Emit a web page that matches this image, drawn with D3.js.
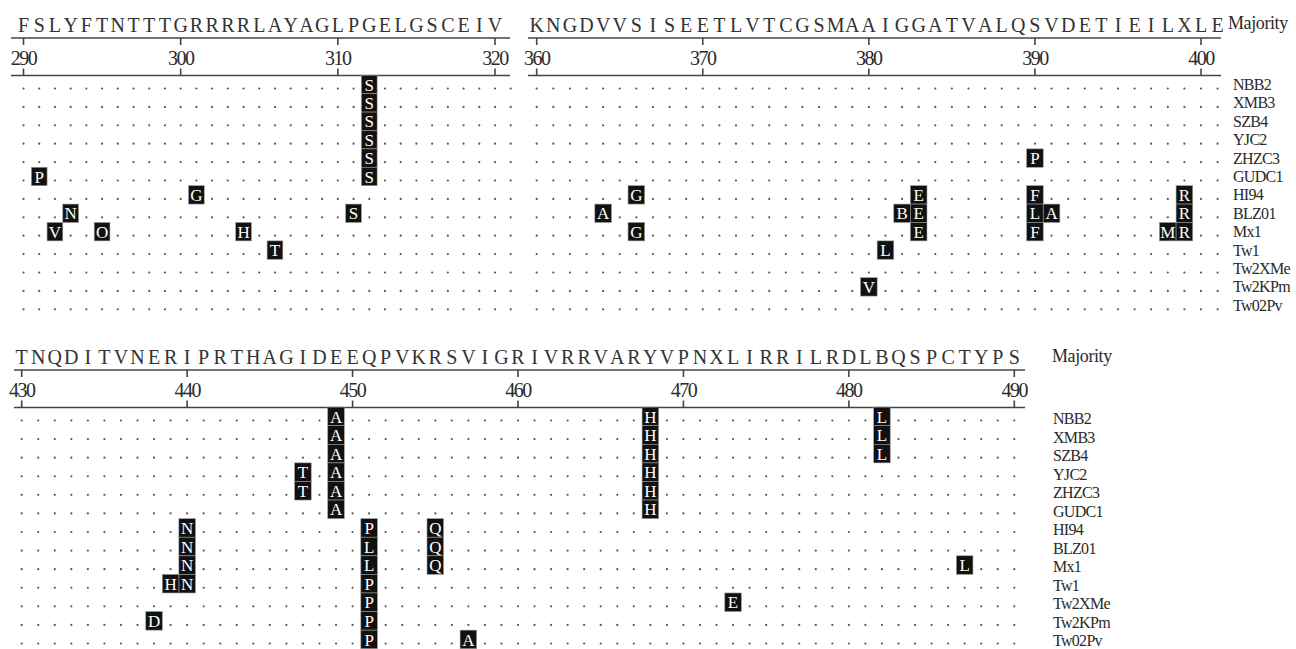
<!DOCTYPE html>
<html>
<head>
<meta charset="utf-8">
<script src="https://cdn.jsdelivr.net/npm/d3@7"></script>
<style>
  body { margin: 0; background: #fff; }
  svg text { font-family: "Liberation Serif", "Times New Roman", serif; }
</style>
</head>
<body>
<script>
// strain names, one alignment row each
const strains = ["NBB2", "XMB3", "SZB4", "YJC2", "ZHZC3", "GUDC1", "HI94",
                 "BLZ01", "Mx1", "Tw1", "Tw2XMe", "Tw2KPm", "Tw02Pv"];

// majority sequences of the three blocks
const seqA = "FSLYFTNTTTGRRRRLAYAGLPGELGSCEIV";                                  // 290 - 320
const seqB = "KNGDVVSISEETLVTCGSMAAIGGATVALQSVDETIEILXLE";                       // 360 - 401
const seqC = "TNQDITVNERIPRTHAGIDEEQPVKRSVIGRIVRRVARYVPNXLIRRILRDLBQSPCTYPS";    // 430 - 490

const startA = 290, lastA = 321;
const startB = 360, lastB = 401;
const startC = 430, lastC = 490;

const ticksA = [290, 300, 310, 320];
const ticksB = [360, 370, 380, 390, 400];
const ticksC = [430, 440, 450, 460, 470, 480, 490];

// substitutions: [residue, strain index, amino acid]
const mutA = [
  [312, 0, "S"], [312, 1, "S"], [312, 2, "S"], [312, 3, "S"], [312, 4, "S"], [312, 5, "S"],
  [291, 5, "P"], [301, 6, "G"], [293, 7, "N"], [311, 7, "S"],
  [292, 8, "V"], [295, 8, "O"], [304, 8, "H"], [306, 9, "T"]
];
const mutB = [
  [390, 4, "P"],
  [366, 6, "G"], [383, 6, "E"], [390, 6, "F"], [399, 6, "R"],
  [364, 7, "A"], [382, 7, "B"], [383, 7, "E"], [390, 7, "L"], [391, 7, "A"], [399, 7, "R"],
  [366, 8, "G"], [383, 8, "E"], [390, 8, "F"], [398, 8, "M"], [399, 8, "R"],
  [381, 9, "L"], [380, 11, "V"]
];
const mutC = [
  [449, 0, "A"], [449, 1, "A"], [449, 2, "A"], [449, 3, "A"], [449, 4, "A"], [449, 5, "A"],
  [468, 0, "H"], [468, 1, "H"], [468, 2, "H"], [468, 3, "H"], [468, 4, "H"], [468, 5, "H"],
  [482, 0, "L"], [482, 1, "L"], [482, 2, "L"],
  [447, 3, "T"], [447, 4, "T"],
  [440, 6, "N"], [440, 7, "N"], [440, 8, "N"], [440, 9, "N"], [439, 9, "H"],
  [438, 11, "D"],
  [451, 6, "P"], [451, 7, "L"], [451, 8, "L"], [451, 9, "P"], [451, 10, "P"], [451, 11, "P"], [451, 12, "P"],
  [455, 6, "Q"], [455, 7, "Q"], [455, 8, "Q"],
  [457, 12, "A"], [473, 10, "E"], [487, 8, "L"]
];

// layout of the blocks (pixels)
const blocks = [
  { seq: seqA, start: startA, last: lastA, ticks: ticksA, muts: mutA,
    px: [23.5, 495], lineX: [11, 510], top: 0, rows: [90, 310.8] },
  { seq: seqB, start: startB, last: lastB, ticks: ticksB, muts: mutB,
    px: [536.7, 1201], lineX: [528, 1221], top: 0, rows: [90, 310.8] },
  { seq: seqC, start: startC, last: lastC, ticks: ticksC, muts: mutC,
    px: [21.7, 1014.3], lineX: [14, 1025], top: 332, rows: [422, 645] }
];

const svg = d3.select("body").append("svg")
  .attr("width", 1296)
  .attr("height", 649);

const ink = "#2a2a2a";

blocks.forEach(function(b) {
  const t = b.ticks;
  const x = d3.scaleLinear().domain([t[0], t[t.length - 1]]).range(b.px);
  const step = x(t[0] + 1) - x(t[0]);
  const y = d3.scalePoint().domain(d3.range(strains.length)).range(b.rows);
  const rowStep = y.step();
  const g = svg.append("g");

  // majority letters
  g.selectAll(".maj")
    .data(b.seq.split(""))
    .enter()
    .append("text")
      .attr("x", (d, i) => x(b.start + i))
      .attr("y", b.top + 32)
      .attr("text-anchor", "middle")
      .attr("font-size", 20)
      .attr("fill", "#333")
      .text(d => d);

  // the two rules with ticks
  [38, 75.5].forEach(function(ly) {
    g.append("line")
      .attr("x1", b.lineX[0]).attr("x2", b.lineX[1])
      .attr("y1", b.top + ly).attr("y2", b.top + ly)
      .attr("stroke", "#444").attr("stroke-width", 1.6);
  });
  g.selectAll(".tk1").data(t).enter().append("line")
    .attr("x1", d => x(d)).attr("x2", d => x(d))
    .attr("y1", b.top + 38).attr("y2", b.top + 45)
    .attr("stroke", "#444").attr("stroke-width", 1.6);
  g.selectAll(".tk2").data(t).enter().append("line")
    .attr("x1", d => x(d)).attr("x2", d => x(d))
    .attr("y1", b.top + 68.5).attr("y2", b.top + 75.5)
    .attr("stroke", "#444").attr("stroke-width", 1.6);
  g.selectAll(".num").data(t).enter().append("text")
    .attr("x", d => x(d))
    .attr("y", b.top + 64.5)
    .attr("text-anchor", "middle")
    .attr("font-size", 20)
    .attr("letter-spacing", -1.5)
    .attr("fill", ink)
    .text(d => d);

  // dots for identical residues
  const hit = new Set(b.muts.map(m => m[0] + "_" + m[1]));
  const cells = [];
  strains.forEach(function(s, r) {
    for (let p = b.start; p <= b.last; p++) {
      if (!hit.has(p + "_" + r)) cells.push([p, r]);
    }
  });
  g.selectAll(".dot").data(cells).enter().append("circle")
    .attr("cx", d => x(d[0]))
    .attr("cy", d => y(d[1]) - 1.5)
    .attr("r", 1.1)
    .attr("fill", "#555");

  // substitution boxes
  const box = g.selectAll(".mut").data(b.muts).enter().append("g");
  box.append("rect")
    .attr("x", d => x(d[0]) - step / 2)
    .attr("y", d => y(d[1]) - rowStep * 0.8)
    .attr("width", step)
    .attr("height", rowStep)
    .attr("fill", "#111")
    .attr("stroke", "#999")
    .attr("stroke-width", 0.6);
  box.append("text")
    .attr("x", d => x(d[0]))
    .attr("y", d => y(d[1]) + 0.5)
    .attr("text-anchor", "middle")
    .attr("font-size", 17)
    .attr("fill", "#fff")
    .text(d => d[2]);
});

// strain labels and "Majority" captions
const labelSets = [
  { x: 1233, majX: 1228, majY: 29, rows: [90, 310.8] },
  { x: 1053, majX: 1052, majY: 362, rows: [424, 646] }
];
labelSets.forEach(function(l) {
  const y = d3.scalePoint().domain(d3.range(strains.length)).range(l.rows);
  svg.append("text")
    .attr("x", l.majX).attr("y", l.majY)
    .attr("font-size", 18)
    .attr("letter-spacing", -0.4)
    .attr("fill", ink)
    .text("Majority");
  svg.selectAll(null).data(strains).enter().append("text")
    .attr("x", l.x)
    .attr("y", (d, i) => y(i))
    .attr("font-size", 16)
    .attr("letter-spacing", -0.7)
    .attr("fill", ink)
    .text(d => d);
});
</script>
</body>
</html>
